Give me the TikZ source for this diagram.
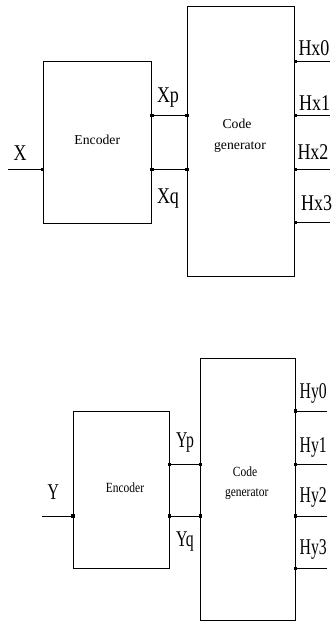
\documentclass[tikz,border=0pt]{standalone}
\usepackage{fontspec}
\setmainfont{Liberation Serif}
\newfontfamily\lblA[FakeStretch=0.8]{Liberation Serif}
\newfontfamily\lblB[FakeStretch=0.7]{Liberation Serif}
\newfontfamily\inA{Liberation Serif}
\newfontfamily\inB[FakeStretch=0.82]{Liberation Serif}
\begin{document}
\begin{tikzpicture}[x=1pt,y=-1pt,
  blockbox/.style={draw,line width=0.8pt,inner sep=0pt,minimum width=#1},
  wire/.style={line width=0.9pt},
  jdot/.style={fill=black,inner sep=0pt,minimum size=3.2pt,rectangle},
  lbltop/.style={anchor=base,inner sep=0pt,font=\lblA\fontsize{22.5}{24}\selectfont},
  lblbot/.style={anchor=base,inner sep=0pt,font=\lblB\fontsize{22.5}{24}\selectfont},
  txttop/.style={anchor=base,inner sep=0pt,font=\inA\fontsize{13.7}{15}\selectfont},
  txtbot/.style={anchor=base,inner sep=0pt,font=\inB\fontsize{14}{15}\selectfont}]
\useasboundingbox (0,0) rectangle (333,622);

% ---------- upper chain: X ----------
\node[blockbox=108.7pt,minimum height=161.6pt] (encx) at (97.3,142.5) {};
\node[blockbox=107.4pt,minimum height=269.3pt] (cgx) at (241,141.35) {};

\coordinate (xin)  at (8.3,169.3);
\coordinate (xinp) at (encx.west |- xin);
\coordinate (xpa)  at (encx.east |- 0,115.7);
\coordinate (xpb)  at (cgx.west |- xpa);
\coordinate (xqa)  at (encx.east |- 0,169.3);
\coordinate (xqb)  at (cgx.west |- xqa);
\foreach \i/\yy in {0/61.7,1/115.7,2/169.3,3/222.7}{
  \coordinate (hx\i) at (cgx.east |- 0,\yy);
  \coordinate (hxe\i) at (330,\yy);
  \draw[wire] (hx\i) -- (hxe\i);
  \node[jdot] at (hx\i) {};
}
\draw[wire] (xin) -- (xinp);
\draw[wire] (xpa) -- (xpb);
\draw[wire] (xqa) -- (xqb);
\foreach \p in {xinp,xpa,xpb,xqa,xqb} \node[jdot] at (\p) {};

\node[txttop] (encxt) at (97.3,144) {Encoder};
\node[txttop] (cgxt1) at (237,128.3) {Code};
\node[txttop] (cgxt2) at (240,149) {generator};
\node[lbltop] (lx)  at (20,160) {X};
\node[lbltop] (lxp) at (168,102.7) {Xp};
\node[lbltop] (lxq) at (168,203.3) {Xq};
\node[lbltop] (lh0) at (314,55) {Hx0};
\node[lbltop] (lh1) at (314.7,110) {Hx1};
\node[lbltop] (lh2) at (313,159.3) {Hx2};
\node[lbltop] (lh3) at (316.7,210) {Hx3};

% ---------- lower chain: Y ----------
\node[blockbox=95.7pt,minimum height=156.6pt] (ency) at (121.15,490) {};
\node[blockbox=94.6pt,minimum height=262pt] (cgy) at (248,489.3) {};

\coordinate (yin)  at (42.3,516);
\coordinate (yinp) at (ency.west |- yin);
\coordinate (ypa)  at (ency.east |- 0,464.3);
\coordinate (ypb)  at (cgy.west |- ypa);
\coordinate (yqa)  at (ency.east |- 0,516);
\coordinate (yqb)  at (cgy.west |- yqa);
\foreach \i/\yy in {0/411,1/464.3,2/516,3/568.3}{
  \coordinate (hy\i) at (cgy.east |- 0,\yy);
  \coordinate (hye\i) at (326.7,\yy);
  \draw[wire] (hy\i) -- (hye\i);
  \node[jdot] at (hy\i) {};
}
\draw[wire] (yin) -- (yinp);
\draw[wire] (ypa) -- (ypb);
\draw[wire] (yqa) -- (yqb);
\foreach \p in {yinp,ypa,ypb,yqa,yqb} \node[jdot] at (\p) {};

\node[txtbot] (encyt) at (125,492.7) {Encoder};
\node[txtbot] (cgyt1) at (245,476.7) {Code};
\node[txtbot] (cgyt2) at (246.7,496) {generator};
\node[lblbot] (ly)  at (53.3,499.3) {Y};
\node[lblbot] (lyp) at (185,447) {Yp};
\node[lblbot] (lyq) at (185,546) {Yq};
\node[lblbot] (lk0) at (313.3,398.7) {Hy0};
\node[lblbot] (lk1) at (313.3,452) {Hy1};
\node[lblbot] (lk2) at (313.3,502.7) {Hy2};
\node[lblbot] (lk3) at (313.3,554.3) {Hy3};
\end{tikzpicture}
\end{document}
